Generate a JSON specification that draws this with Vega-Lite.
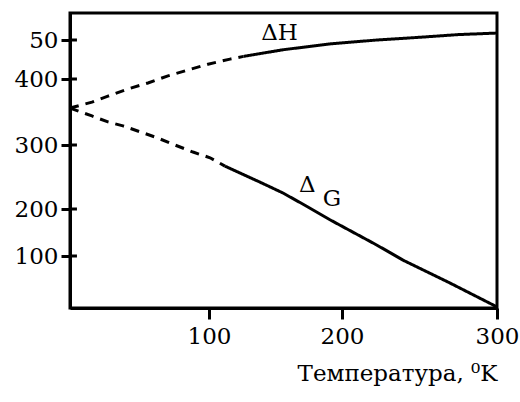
{
  "$schema": "https://vega.github.io/schema/vega-lite/v6.json",
  "width": 427,
  "height": 295,
  "autosize": "none",
  "padding": {"left": 70, "top": 13, "right": 23, "bottom": 94},
  "background": "white",
  "config": {
    "view": {"stroke": "black", "strokeWidth": 3},
    "font": "DejaVu Serif"
  },
  "datasets": {
    "curves": [
      {"seg": "H-d", "style": "dashed", "T": 0, "E": 356},
      {"seg": "H-d", "style": "dashed", "T": 15.8, "E": 365},
      {"seg": "H-d", "style": "dashed", "T": 27.3, "E": 374},
      {"seg": "H-d", "style": "dashed", "T": 41.7, "E": 385},
      {"seg": "H-d", "style": "dashed", "T": 56.1, "E": 394},
      {"seg": "H-d", "style": "dashed", "T": 70.5, "E": 408},
      {"seg": "H-d", "style": "dashed", "T": 84.9, "E": 423},
      {"seg": "H-d", "style": "dashed", "T": 99.3, "E": 438},
      {"seg": "H-d", "style": "dashed", "T": 115.8, "E": 451},
      {"seg": "H-d", "style": "dashed", "T": 126, "E": 458},
      {"seg": "H-s", "style": "solid", "T": 126, "E": 458},
      {"seg": "H-s", "style": "solid", "T": 155.6, "E": 475},
      {"seg": "H-s", "style": "solid", "T": 191, "E": 490},
      {"seg": "H-s", "style": "solid", "T": 222.6, "E": 500},
      {"seg": "H-s", "style": "solid", "T": 250, "E": 507},
      {"seg": "H-s", "style": "solid", "T": 275, "E": 514},
      {"seg": "H-s", "style": "solid", "T": 300, "E": 518},
      {"seg": "G-d", "style": "dashed", "T": 0, "E": 356},
      {"seg": "G-d", "style": "dashed", "T": 15.8, "E": 344},
      {"seg": "G-d", "style": "dashed", "T": 27.3, "E": 335},
      {"seg": "G-d", "style": "dashed", "T": 38.1, "E": 329},
      {"seg": "G-d", "style": "dashed", "T": 50.4, "E": 320},
      {"seg": "G-d", "style": "dashed", "T": 62.6, "E": 311},
      {"seg": "G-d", "style": "dashed", "T": 75.5, "E": 300},
      {"seg": "G-d", "style": "dashed", "T": 88.5, "E": 289},
      {"seg": "G-d", "style": "dashed", "T": 100.8, "E": 280},
      {"seg": "G-d", "style": "dashed", "T": 112, "E": 267},
      {"seg": "G-s", "style": "solid", "T": 112, "E": 267},
      {"seg": "G-s", "style": "solid", "T": 138.3, "E": 242},
      {"seg": "G-s", "style": "solid", "T": 155.6, "E": 225},
      {"seg": "G-s", "style": "solid", "T": 173.7, "E": 204},
      {"seg": "G-s", "style": "solid", "T": 191, "E": 177},
      {"seg": "G-s", "style": "solid", "T": 222.6, "E": 123},
      {"seg": "G-s", "style": "solid", "T": 239.4, "E": 92},
      {"seg": "G-s", "style": "solid", "T": 269.7, "E": 48},
      {"seg": "G-s", "style": "solid", "T": 297.4, "E": 6},
      {"seg": "G-s", "style": "solid", "T": 300, "E": 2}
    ],
    "labels": [
      {"T": 153, "E": 518, "txt": "ΔH"},
      {"T": 174, "E": 237, "txt": "Δ"},
      {"T": 192.5, "E": 216, "txt": "G"}
    ],
    "yticks": [{"v": 100}, {"v": 200}, {"v": 300}, {"v": 400}, {"v": 500}]
  },
  "layer": [
    {
      "data": {"name": "curves"},
      "mark": {"type": "line", "strokeWidth": 3, "color": "black"},
      "encoding": {
        "x": {
          "field": "T",
          "type": "quantitative",
          "scale": {"domain": [0, 100, 200, 300], "range": [0, 139, 272, 427], "nice": false, "zero": false},
          "axis": {
            "values": [100, 200, 300],
            "grid": false,
            "tickSize": 11,
            "tickWidth": 3,
            "tickColor": "black",
            "domainColor": "black",
            "domainWidth": 3,
            "labelFont": "DejaVu Serif",
            "labelFontSize": 23,
            "labelColor": "black",
            "labelPadding": 6,
            "labelFlush": false,
            "title": "Температура, ⁰K",
            "titleFont": "DejaVu Serif",
            "titleFontSize": 23,
            "titleFontWeight": "normal",
            "titleColor": "black",
            "titleAnchor": "end",
            "titlePadding": 14
          }
        },
        "y": {
          "field": "E",
          "type": "quantitative",
          "scale": {"domain": [0, 100, 200, 300, 400, 500, 570], "range": [295, 243, 196, 132, 66, 27, 0], "nice": false, "zero": false},
          "axis": {
            "values": [100, 200, 300, 400, 500],
            "labelExpr": "datum.value == 500 ? '50' : datum.label",
            "grid": false,
            "tickSize": 9,
            "tickWidth": 3,
            "tickColor": "black",
            "domainColor": "black",
            "domainWidth": 3,
            "labelFont": "DejaVu Serif",
            "labelFontSize": 23,
            "labelColor": "black",
            "labelPadding": 3,
            "title": null
          }
        },
        "detail": {"field": "seg"},
        "strokeDash": {
          "field": "style",
          "type": "nominal",
          "scale": {"domain": ["dashed", "solid"], "range": [[9, 7], [1, 0]]},
          "legend": null
        }
      }
    },
    {
      "data": {"name": "yticks"},
      "mark": {"type": "rule", "strokeWidth": 3, "color": "black"},
      "encoding": {
        "y": {"field": "v", "type": "quantitative"},
        "x": {"datum": 0},
        "x2": {"datum": 5}
      }
    },
    {
      "data": {"name": "labels"},
      "mark": {"type": "text", "font": "DejaVu Serif", "fontSize": 23, "color": "black", "align": "center", "baseline": "middle"},
      "encoding": {
        "x": {"field": "T", "type": "quantitative"},
        "y": {"field": "E", "type": "quantitative"},
        "text": {"field": "txt"}
      }
    }
  ]
}
